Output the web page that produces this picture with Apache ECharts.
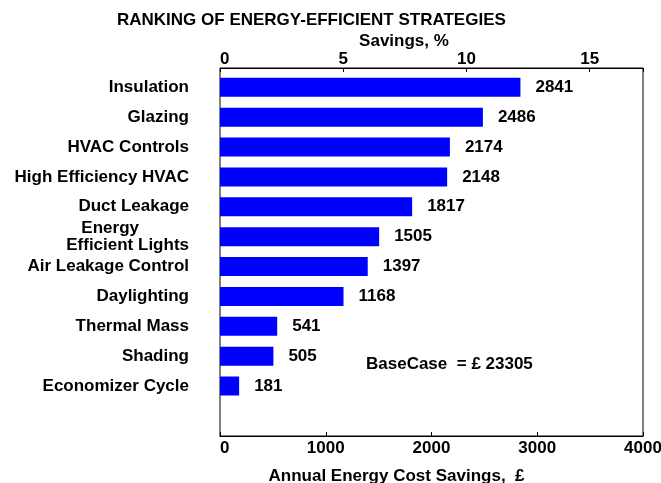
<!DOCTYPE html>
<html>
<head>
<meta charset="utf-8">
<script src="https://cdn.jsdelivr.net/npm/echarts@6/dist/echarts.min.js"></script>
<style>
  html, body { margin: 0; padding: 0; background: #fff; }
  #chart { width: 661px; height: 483px; }
</style>
</head>
<body>
<div id="chart"></div>
<script>
// strategies, top to bottom
const categories = ['Insulation', 'Glazing', 'HVAC Controls', 'High Efficiency HVAC', 'Duct Leakage',
  'Energy Efficient Lights', 'Air Leakage Control', 'Daylighting', 'Thermal Mass', 'Shading', 'Economizer Cycle'];
// annual energy cost savings, £
const savings = [2841, 2486, 2174, 2148, 1817, 1505, 1397, 1168, 541, 505, 181];
const baseCase = 23305;
const costMax = 4000;

const font = 'Liberation Sans, Arial, sans-serif';
const txt = { color: '#000', fontFamily: font, fontWeight: 'bold', fontSize: 17 };

const chart = echarts.init(document.getElementById('chart'));

chart.setOption({
  animation: false,
  title: {
    text: 'RANKING OF ENERGY-EFFICIENT STRATEGIES',
    left: 117, top: 12, padding: 0,
    textStyle: Object.assign({}, txt)
  },
  grid: [
    // frame + both x axes
    { left: 220, right: 18, top: 68, bottom: 47, outerBoundsMode: 'none', containLabel: false,
      show: true, borderColor: '#000', borderWidth: 1, backgroundColor: 'transparent' },
    // bars (one empty slot left at the bottom)
    { left: 220, right: 18, top: 72.4, bottom: 52.2, outerBoundsMode: 'none', containLabel: false }
  ],
  xAxis: [
    {
      gridIndex: 0, type: 'value', position: 'bottom', min: 0, max: costMax, interval: 1000,
      name: 'Annual Energy Cost Savings,  £', nameLocation: 'middle', nameGap: 32, nameMoveOverlap: false,
      nameTextStyle: Object.assign({ padding: [0, 70, 0, 0] }, txt),
      axisLine: { lineStyle: { color: '#000' } },
      axisTick: { inside: true, length: 4, lineStyle: { color: '#000' } },
      axisLabel: Object.assign({ margin: 4, alignMinLabel: 'left', formatter: v => String(v) }, txt),
      splitLine: { show: false }
    },
    {
      gridIndex: 0, type: 'value', position: 'top', min: 0, max: costMax / baseCase * 100, interval: 5,
      name: 'Savings, %', nameLocation: 'middle', nameGap: 18, nameMoveOverlap: false,
      nameTextStyle: Object.assign({ padding: [0, 55, 0, 0] }, txt),
      axisLine: { lineStyle: { color: '#000' } },
      axisTick: { inside: true, length: 4, lineStyle: { color: '#000' } },
      axisLabel: Object.assign({ margin: 0, alignMinLabel: 'left', formatter: v => (v % 5 === 0 ? String(v) : '') }, txt),
      splitLine: { show: false }
    },
    { gridIndex: 1, type: 'value', min: 0, max: costMax, show: false }
  ],
  yAxis: [
    { gridIndex: 0, type: 'value', show: false },
    {
      gridIndex: 1, type: 'category', inverse: true, data: categories.concat(['']),
      axisLine: { show: false }, axisTick: { show: false },
      axisLabel: Object.assign({
        margin: 31,
        formatter: v => (v === 'Energy Efficient Lights' ? '{a|Energy}\n{b|Efficient Lights}' : v),
        rich: {
          a: Object.assign({ padding: [0, 50, 0, 0], lineHeight: 17 }, txt),
          b: Object.assign({ lineHeight: 17 }, txt)
        }
      }, txt)
    }
  ],
  graphic: [{
    type: 'text', left: 366, top: 356,
    style: { text: 'BaseCase  = £ 23305', fill: '#000', font: 'bold 17px ' + font }
  }],
  series: [{
    type: 'bar', xAxisIndex: 2, yAxisIndex: 1,
    data: savings, barWidth: 19,
    itemStyle: { color: '#0000ff' },
    label: Object.assign({ show: true, position: 'right', distance: 15 }, txt)
  }]
});
</script>
</body>
</html>
